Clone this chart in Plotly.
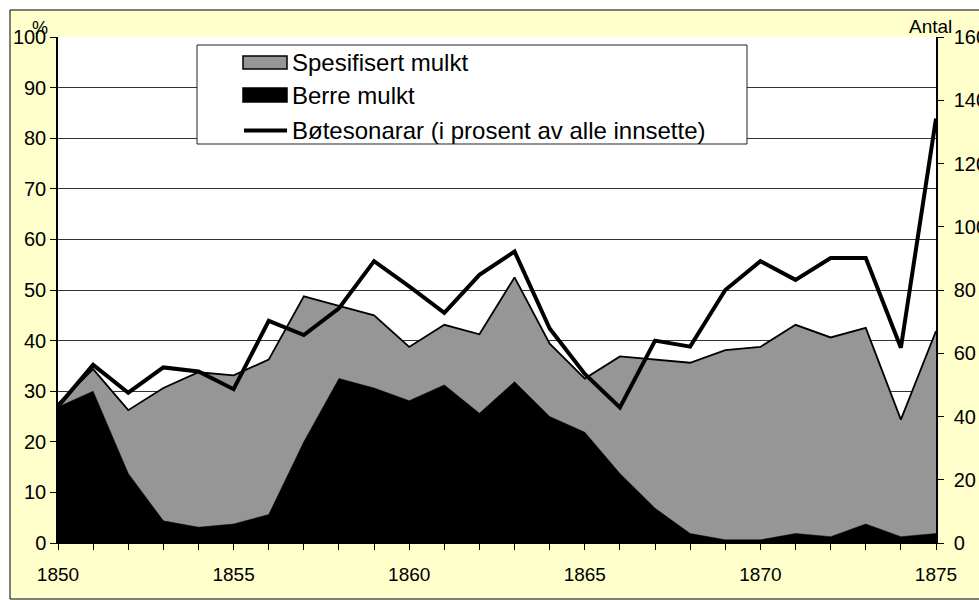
import plotly.graph_objects as go

years = list(range(1850, 1876))
# Antal (right axis)
spesifisert = [44, 55, 42, 49, 54, 53, 58, 78, 75, 72, 62, 69, 66, 84, 63, 52,
               59, 58, 57, 61, 62, 69, 65, 68, 39, 67]
berre = [43, 48, 22, 7, 5, 6, 9, 32, 52, 49, 45, 50, 41, 51, 40, 35,
         22, 11, 3, 1, 1, 3, 2, 6, 2, 3]
# Percent (left axis)
botesonarar = [27.0, 35.2, 29.7, 34.7, 33.9, 30.4, 43.9, 41.1, 46.4, 55.7, 50.7,
               45.5, 53.0, 57.6, 42.4, 33.4, 26.8, 40.0, 38.8, 50.0, 55.7, 52.0,
               56.3, 56.3, 38.6, 83.9]

names = ["Spesifisert mulkt", "Berre mulkt",
         "Bøtesonarar (i prosent av alle innsette)"]

FONT = "Liberation Sans, Arial, sans-serif"

fig = go.Figure()
fig.add_trace(go.Scatter(x=years, y=spesifisert, name=names[0],
                         mode="lines", fill="tozeroy", fillcolor="#969696",
                         line=dict(color="black", width=1.8), yaxis="y",
                         showlegend=False))
fig.add_trace(go.Scatter(x=years, y=berre, name=names[1],
                         mode="lines", fill="tozeroy", fillcolor="black",
                         line=dict(color="black", width=0.5), yaxis="y",
                         showlegend=False))
fig.add_trace(go.Scatter(x=years, y=botesonarar, name=names[2],
                         mode="lines", line=dict(color="black", width=4),
                         yaxis="y2", showlegend=False))

W, H = 979, 600
L, R, T, B = 58, 43, 37, 57
pw, ph = W - L - R, H - T - B


def px(x):
    return (x - L) / pw


def py(y):
    return (H - B - y) / ph


shapes = [
    dict(type="rect", xref="paper", yref="paper", x0=-0.3, x1=1.3,
         y0=py(10), y1=1.3, fillcolor="white", line=dict(width=0), layer="below"),
    dict(type="rect", xref="paper", yref="paper", x0=-0.3, x1=px(10),
         y0=-0.3, y1=1.3, fillcolor="white", line=dict(width=0), layer="below"),
    dict(type="rect", xref="paper", yref="paper", x0=-0.3, x1=1.3,
         y0=-0.3, y1=py(599), fillcolor="white", line=dict(width=0), layer="below"),
    dict(type="rect", xref="paper", yref="paper", x0=px(10), x1=px(1000),
         y0=py(599), y1=py(10), line=dict(color="black", width=1),
         fillcolor="rgba(0,0,0,0)", layer="below"),
    # legend box
    dict(type="rect", xref="paper", yref="paper", x0=px(197), x1=px(747),
         y0=py(144), y1=py(45), line=dict(color="#222222", width=1),
         fillcolor="white", layer="above"),
    dict(type="rect", xref="paper", yref="paper", x0=px(243), x1=px(287),
         y0=py(69), y1=py(56), line=dict(color="black", width=1.5),
         fillcolor="#969696", layer="above"),
    dict(type="rect", xref="paper", yref="paper", x0=px(243), x1=px(287),
         y0=py(102), y1=py(88), line=dict(color="black", width=1.5),
         fillcolor="black", layer="above"),
    dict(type="line", xref="paper", yref="paper", x0=px(244), x1=px(287),
         y0=py(130.5), y1=py(130.5), line=dict(color="black", width=4),
         layer="above"),
]

legend_rows = [62.5, 95.5, 130.5]
annotations = [
    dict(text="%", xref="paper", yref="paper", x=px(40), y=py(28),
         xanchor="center", yanchor="middle", showarrow=False,
         font=dict(size=18)),
    dict(text="Antal", xref="paper", yref="paper", x=px(954), y=py(27),
         xanchor="right", yanchor="middle", showarrow=False,
         font=dict(size=19)),
]
for nm, yy in zip(names, legend_rows):
    annotations.append(dict(text=nm, xref="paper", yref="paper", x=px(290),
                            y=py(yy), xanchor="left", yanchor="middle",
                            showarrow=False, font=dict(size=24)))

fig.update_layout(
    width=W, height=H,
    margin=dict(l=L, r=R, t=T, b=B, pad=0, autoexpand=False),
    paper_bgcolor="#FFFFCC",
    plot_bgcolor="white",
    font=dict(family=FONT, color="black", size=18),
    showlegend=False,
    xaxis=dict(range=[1850, 1875], tickvals=[1850, 1855, 1860, 1865, 1870, 1875],
               ticks="outside", ticklen=6, tickcolor="black",
               showline=True, linecolor="black", linewidth=1,
               showgrid=False, zeroline=False, automargin=False,
               tickfont=dict(size=19), ticklabelstandoff=8,
               minor=dict(dtick=1, ticks="outside", ticklen=6, tickcolor="black",
                          showgrid=False)),
    yaxis=dict(range=[0, 160], dtick=20, side="right",
               ticks="outside", ticklen=6, tickcolor="black",
               showline=True, linecolor="black", linewidth=1.5,
               showgrid=False, zeroline=False, automargin=False,
               tickfont=dict(size=20), ticklabelstandoff=6),
    yaxis2=dict(range=[0, 100], dtick=10, side="left", overlaying="y",
                ticks="outside", ticklen=6, tickcolor="black",
                showline=True, linecolor="black", linewidth=1.5,
                showgrid=True, gridcolor="#333333", gridwidth=1,
                zeroline=False, automargin=False, tickfont=dict(size=20)),
    shapes=shapes,
    annotations=annotations,
)

fig.write_html("out.html",
               config={"displayModeBar": False},
               post_script="document.body.style.margin='0px';"
                           "document.body.style.overflow='hidden';")
